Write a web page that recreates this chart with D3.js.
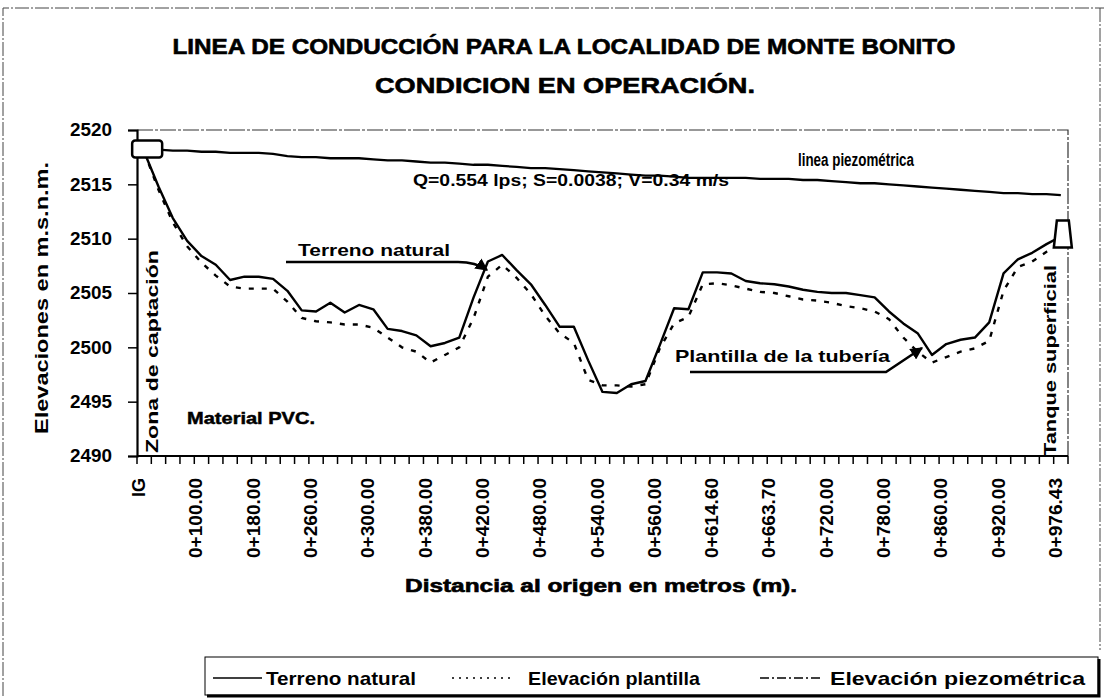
<!DOCTYPE html>
<html>
<head>
<meta charset="utf-8">
<script src="https://cdn.jsdelivr.net/npm/d3@7"></script>
<style>
  body { margin: 0; background: #fff; }
  text { font-family: "Liberation Sans", Arial, sans-serif; fill: #000; }
</style>
</head>
<body>
<svg id="chart" width="1104" height="698"></svg>
<script>
// labels shown on the category axis (one every 4 stations)
var tickLabels = ["IG", "0+100.00", "0+180.00", "0+260.00", "0+300.00", "0+380.00", "0+420.00",
  "0+480.00", "0+540.00", "0+560.00", "0+614.60", "0+663.70", "0+720.00", "0+780.00",
  "0+860.00", "0+920.00", "0+976.43"]

var yTicks = [2490, 2495, 2500, 2505, 2510, 2515, 2520]

// elevations per station (m.s.n.m.)
var terreno = [2518.0, 2514.8, 2511.9, 2509.8, 2508.4, 2507.6, 2506.2, 2506.5, 2506.5, 2506.3,
  2505.2, 2503.4, 2503.3, 2504.1, 2503.2, 2503.9, 2503.5, 2501.7, 2501.5, 2501.1,
  2500.1, 2500.4, 2500.9, 2504.6, 2507.9, 2508.5, 2507.1, 2505.8, 2503.9, 2501.9,
  2501.9, 2498.8, 2495.9, 2495.8, 2496.6, 2496.9, 2500.2, 2503.6, 2503.5, 2506.9,
  2506.9, 2506.8, 2506.1, 2505.9, 2505.8, 2505.6, 2505.3, 2505.1, 2505.0, 2505.0,
  2504.8, 2504.6, 2503.3, 2502.2, 2501.3, 2499.3, 2500.3, 2500.7, 2500.9, 2502.3,
  2506.8, 2508.1, 2508.7, 2509.5, 2510.2]

var plantilla = [2518.0, 2514.5, 2511.5, 2509.3, 2507.8, 2506.6, 2505.6, 2505.4, 2505.4, 2505.4,
  2504.2, 2502.7, 2502.4, 2502.3, 2502.1, 2502.1, 2501.8, 2500.9, 2500.0, 2499.6,
  2498.6, 2499.3, 2500.0, 2502.7, 2506.5, 2507.6, 2506.4, 2504.9, 2502.9, 2501.3,
  2500.4, 2497.0, 2496.5, 2496.5, 2496.4, 2496.6, 2499.9, 2502.2, 2502.8, 2505.8,
  2505.9, 2505.7, 2505.4, 2505.1, 2505.0, 2504.7, 2504.4, 2504.3, 2504.1, 2503.8,
  2503.6, 2503.3, 2502.6, 2500.9, 2499.6, 2498.6, 2499.1, 2499.6, 2499.9, 2500.6,
  2505.2, 2507.4, 2507.9, 2508.8, 2509.8]

var piezometrica = [2518.2, 2518.2, 2518.1, 2518.1, 2518.0, 2518.0, 2517.9, 2517.9, 2517.9, 2517.8,
  2517.6, 2517.5, 2517.5, 2517.4, 2517.4, 2517.4, 2517.3, 2517.2, 2517.2, 2517.1,
  2517.0, 2517.0, 2516.9, 2516.8, 2516.8, 2516.7, 2516.6, 2516.5, 2516.5, 2516.4,
  2516.3, 2516.2, 2516.1, 2516.0, 2515.9, 2515.8, 2515.8, 2515.7, 2515.6, 2515.6,
  2515.6, 2515.6, 2515.6, 2515.5, 2515.5, 2515.5, 2515.4, 2515.4, 2515.3, 2515.2,
  2515.1, 2515.1, 2515.0, 2514.9, 2514.8, 2514.7, 2514.6, 2514.5, 2514.4, 2514.3,
  2514.2, 2514.2, 2514.1, 2514.1, 2514.0]

var svg = d3.select('#chart')
var plot = { l: 137, r: 1068, t: 130, b: 456 }

svg.append('rect').attr('width', 1104).attr('height', 698).attr('fill', '#fff')

// outer (scanned) border
svg.append('path')
  .attr('d', 'M3,696 V8 H1104 M1100,8 V650')
  .attr('fill', 'none').attr('stroke', '#444').attr('stroke-width', 1)
  .attr('stroke-dasharray', '14,2,2,2')

var stations = d3.range(terreno.length)

var x = d3.scaleBand().domain(stations).range([plot.l, plot.r])
var y = d3.scaleLinear().domain([2490, 2520]).range([plot.b, plot.t])

function cx(i) { return x(i) + x.bandwidth() / 2 }

// title
var title = svg.append('g').attr('font-weight', 'bold')
title.append('text').attr('x', 564).attr('y', 54).attr('text-anchor', 'middle')
  .attr('font-size', 22).attr('textLength', 783).attr('lengthAdjust', 'spacingAndGlyphs')
  .attr('stroke', '#000').attr('stroke-width', 0.6)
  .text('LINEA DE CONDUCCIÓN PARA LA LOCALIDAD DE MONTE BONITO')
title.append('text').attr('x', 565).attr('y', 93).attr('text-anchor', 'middle')
  .attr('font-size', 22).attr('textLength', 380).attr('lengthAdjust', 'spacingAndGlyphs')
  .attr('stroke', '#000').attr('stroke-width', 0.6)
  .text('CONDICION EN OPERACIÓN.')

// plot frame (top and right sides)
svg.append('path')
  .attr('d', 'M' + plot.l + ',' + plot.t + ' H' + plot.r + ' V' + plot.b)
  .attr('fill', 'none').attr('stroke', '#333').attr('stroke-width', 1.2)
  .attr('stroke-dasharray', '16,2,3,2')

// y axis
var yAxis = svg.append('g')
  .attr('transform', 'translate(' + plot.l + ',0)')
  .call(d3.axisLeft(y).tickValues(yTicks).tickSize(9).tickPadding(16).tickFormat(d3.format('d')))
yAxis.select('.domain').attr('stroke-width', 2.2)
yAxis.selectAll('.tick line').attr('stroke-width', 1.5)
yAxis.selectAll('.tick text')
  .attr('font-size', 18).attr('font-weight', 'bold').attr('font-family', '"Liberation Sans", Arial, sans-serif')
  .attr('textLength', 42).attr('lengthAdjust', 'spacingAndGlyphs')

svg.append('text')
  .attr('transform', 'translate(48,298) rotate(-90)')
  .attr('text-anchor', 'middle').attr('font-size', 19).attr('font-weight', 'bold')
  .attr('textLength', 272).attr('lengthAdjust', 'spacingAndGlyphs')
  .text('Elevaciones en m.s.n.m.')

// x axis: ticks between stations
svg.append('line')
  .attr('x1', plot.l).attr('x2', plot.r).attr('y1', plot.b).attr('y2', plot.b)
  .attr('stroke', '#000').attr('stroke-width', 2.2)

svg.append('g').selectAll('line')
  .data(d3.range(terreno.length + 1))
  .join('line')
  .attr('x1', function(d) { return plot.l + d * x.step() })
  .attr('x2', function(d) { return plot.l + d * x.step() })
  .attr('y1', plot.b).attr('y2', plot.b + 8)
  .attr('stroke', '#000').attr('stroke-width', 1.5)

svg.append('g').selectAll('text')
  .data(tickLabels)
  .join('text')
  .attr('transform', function(d, k) { return 'translate(' + (cx(k * 4) - 5) + ',478) rotate(-90)' })
  .attr('text-anchor', 'end').attr('dominant-baseline', 'central')
  .attr('font-size', 18).attr('font-weight', 'bold')
  .attr('textLength', function(d) { return d.length > 2 ? 80 : null })
  .attr('lengthAdjust', 'spacingAndGlyphs')
  .text(function(d) { return d })

svg.append('text')
  .attr('x', 601).attr('y', 592).attr('text-anchor', 'middle')
  .attr('font-size', 18).attr('font-weight', 'bold')
  .attr('stroke', '#000').attr('stroke-width', 0.6)
  .attr('textLength', 392).attr('lengthAdjust', 'spacingAndGlyphs')
  .text('Distancia al origen en metros (m).')

// series
function lineFor(values) {
  return d3.line().x(function(d, i) { return cx(i) }).y(function(d) { return y(d) })(values)
}

svg.append('path').attr('d', lineFor(plantilla))
  .attr('fill', 'none').attr('stroke', '#000').attr('stroke-width', 2.4)
  .attr('stroke-dasharray', '5,8')

svg.append('path').attr('d', lineFor(piezometrica))
  .attr('fill', 'none').attr('stroke', '#000').attr('stroke-width', 2.3)

svg.append('path').attr('d', lineFor(terreno))
  .attr('fill', 'none').attr('stroke', '#000').attr('stroke-width', 2.4)
  .attr('stroke-linejoin', 'round')

// intake box at the origin and tank at the end
svg.append('rect')
  .attr('x', cx(0) - 12).attr('y', y(piezometrica[0]) - 9)
  .attr('width', 30).attr('height', 17).attr('rx', 3)
  .attr('fill', '#fff').attr('stroke', '#000').attr('stroke-width', 2.5)

var last = terreno.length - 1
var tx = cx(last) + 2, ty = y(terreno[last]) - 2
svg.append('path')
  .attr('d', 'M' + (tx - 6) + ',' + (ty - 14) + ' L' + (tx + 6) + ',' + (ty - 14) +
    ' L' + (tx + 9) + ',' + (ty + 13) + ' L' + (tx - 9) + ',' + (ty + 13) + 'Z')
  .attr('fill', '#fff').attr('stroke', '#000').attr('stroke-width', 2.5)

// annotations
var notes = svg.append('g').attr('font-weight', 'bold').attr('font-size', 17)

notes.append('text').attr('transform', 'translate(152,453) rotate(-90)')
  .attr('dominant-baseline', 'central').attr('textLength', 203).attr('lengthAdjust', 'spacingAndGlyphs')
  .text('Zona de captación')

notes.append('text').attr('transform', 'translate(1050,456) rotate(-90)')
  .attr('dominant-baseline', 'central').attr('textLength', 191).attr('lengthAdjust', 'spacingAndGlyphs')
  .text('Tanque superficial')

notes.append('text').attr('x', 187).attr('y', 424)
  .attr('textLength', 128).attr('lengthAdjust', 'spacingAndGlyphs')
  .attr('stroke', '#000').attr('stroke-width', 0.5)
  .text('Material PVC.')

notes.append('text').attr('x', 413).attr('y', 186).attr('font-size', 16)
  .attr('textLength', 316).attr('lengthAdjust', 'spacingAndGlyphs')
  .text('Q=0.554 lps; S=0.0038; V=0.34 m/s')

notes.append('text').attr('x', 798).attr('y', 166).attr('font-size', 18)
  .attr('textLength', 116).attr('lengthAdjust', 'spacingAndGlyphs')
  .text('linea piezométrica')

notes.append('text').attr('x', 298).attr('y', 256)
  .attr('textLength', 152).attr('lengthAdjust', 'spacingAndGlyphs')
  .text('Terreno natural')

notes.append('text').attr('x', 675).attr('y', 362)
  .attr('textLength', 215).attr('lengthAdjust', 'spacingAndGlyphs')
  .text('Plantilla de la tubería')

svg.append('defs').append('marker')
  .attr('id', 'arrow').attr('viewBox', '0 0 10 10').attr('refX', 9).attr('refY', 5)
  .attr('markerWidth', 5).attr('markerHeight', 5).attr('orient', 'auto')
  .append('path').attr('d', 'M0,0 L10,5 L0,10 Z').attr('fill', '#000')

svg.append('path')
  .attr('d', 'M286,262 H458 C472,262 480,265 487,270')
  .attr('fill', 'none').attr('stroke', '#000').attr('stroke-width', 2.5)
  .attr('marker-end', 'url(#arrow)')

svg.append('path')
  .attr('d', 'M690,372 H886 L922,348')
  .attr('fill', 'none').attr('stroke', '#000').attr('stroke-width', 2.5)
  .attr('marker-end', 'url(#arrow)')

// legend
var legend = svg.append('g')
legend.append('rect').attr('x', 205).attr('y', 657).attr('width', 893).attr('height', 38)
  .attr('fill', '#fff').attr('stroke', '#000').attr('stroke-width', 1)
legend.append('path').attr('d', 'M1099,659 V696 H207')
  .attr('fill', 'none').attr('stroke', '#000').attr('stroke-width', 3)

var legendItems = [
  { name: 'Terreno natural', dash: null, x0: 213, x1: 262, tx: 266, tw: 150 },
  { name: 'Elevación plantilla', dash: '2,5', x0: 452, x1: 514, tx: 528, tw: 172 },
  { name: 'Elevación piezométrica', dash: '9,3,2,3', x0: 760, x1: 822, tx: 830, tw: 255 }
]
legend.selectAll('line').data(legendItems).join('line')
  .attr('x1', function(d) { return d.x0 }).attr('x2', function(d) { return d.x1 })
  .attr('y1', 678).attr('y2', 678)
  .attr('stroke', '#000').attr('stroke-width', 1.5)
  .attr('stroke-dasharray', function(d) { return d.dash })
legend.selectAll('text').data(legendItems).join('text')
  .attr('x', function(d) { return d.tx }).attr('y', 678)
  .attr('dominant-baseline', 'central').attr('font-size', 19).attr('font-weight', 'bold')
  .attr('textLength', function(d) { return d.tw }).attr('lengthAdjust', 'spacingAndGlyphs')
  .text(function(d) { return d.name })
</script>
</body>
</html>
